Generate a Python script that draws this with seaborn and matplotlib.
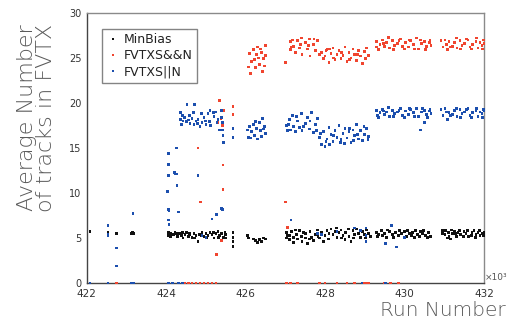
import matplotlib as mpl
mpl.use('Agg')
import matplotlib.pyplot as plt
from matplotlib.ticker import MultipleLocator
import seaborn as sns
import pandas as pd

sns.set_style('white')
plt.rcParams['font.family'] = ['DejaVu Sans']

# run numbers are in units of 10^3
mb_run = [422.08, 422.53, 422.53, 422.75, 423.12, 423.15, 423.18,
          424.05, 424.05, 424.12, 424.18, 424.22, 424.28, 424.33, 424.38, 424.42, 424.47,
          424.50, 424.55, 424.60, 424.65, 424.70, 424.75, 424.80, 424.83, 424.90, 424.95,
          425.00, 425.05, 425.10, 425.15, 425.20, 425.25, 425.30, 425.35, 425.40, 425.45,
          425.50, 425.50, 425.68, 425.68, 425.68, 425.68,
          426.05, 426.07, 426.20, 426.25, 426.30, 426.35, 426.40, 426.45, 426.50,
          427.02, 427.02, 427.10, 427.10, 427.15, 427.20, 427.20, 427.28, 427.30, 427.35,
          427.40, 427.42, 427.50, 427.50, 427.55, 427.62, 427.65, 427.70, 427.75, 427.80,
          427.85, 427.90, 427.95, 428.00, 428.05, 428.10, 428.15, 428.20, 428.25, 428.30,
          428.35, 428.40, 428.45, 428.50, 428.52, 428.60, 428.65, 428.70, 428.75, 428.80,
          428.85, 428.90, 428.95, 429.00, 429.05, 429.10, 429.15,
          429.30, 429.35, 429.42, 429.50, 429.55, 429.62, 429.70, 429.78, 429.85, 429.92,
          430.00, 430.05, 430.12, 430.20, 430.25, 430.32, 430.40, 430.45, 430.52, 430.60,
          430.65, 430.95, 430.95, 431.02, 431.08, 431.10, 431.15, 431.20, 431.25, 431.30,
          431.35, 431.42, 431.50, 431.55, 431.62, 431.70, 431.75, 431.80, 431.85, 431.90,
          431.95, 432.00,
          429.32, 429.45, 429.58, 429.72, 429.88, 430.08, 430.18, 430.28, 430.38, 430.48,
          430.58, 431.04, 431.12, 431.18, 431.28, 431.38, 431.48, 431.58, 431.68, 431.78,
          431.88, 431.98, 427.05, 427.25, 427.45, 427.60, 427.82, 428.08, 428.28, 428.42,
          428.58, 428.72, 428.88, 429.02, 424.10, 424.25, 424.40, 424.58, 424.72, 424.88,
          425.02, 425.18, 425.32, 425.48]
mb_val = [5.7, 5.4, 5.6, 5.5, 5.5, 5.6, 5.5,
          5.6, 5.3, 5.5, 5.4, 5.6, 5.2, 5.5, 5.3, 5.0, 5.4,
          5.6, 5.2, 5.4, 5.1, 5.5, 5.3, 4.6, 5.4, 5.6, 5.2,
          5.5, 5.3, 5.6, 5.4, 5.0, 5.5, 5.7, 5.3, 5.5, 5.1,
          5.4, 5.0, 5.6, 5.1, 4.6, 4.1,
          5.3, 5.0, 4.9, 4.7, 4.5, 4.8, 4.6, 5.0, 4.9,
          5.6, 5.0, 5.3, 4.8, 5.7, 5.1, 4.5, 5.4, 4.9, 5.8,
          5.2, 4.6, 5.5, 5.0, 4.4, 5.7, 5.1, 4.7, 5.4, 5.9,
          5.0, 5.6, 4.6, 5.3, 5.8, 5.5, 6.0, 5.4, 5.7, 5.1,
          5.6, 5.9, 5.3, 4.8, 5.6, 5.2, 4.6, 5.8, 5.4, 6.0,
          5.5, 5.1, 5.7, 5.4, 5.9, 5.5, 5.2,
          5.6, 5.4, 5.8, 5.5, 5.1, 5.7, 5.4, 5.6, 5.3, 5.5,
          5.7, 5.2, 5.5, 5.6, 5.1, 5.4, 5.7, 5.5, 5.3, 5.6,
          5.2, 5.5, 5.8, 5.4, 5.0, 5.6, 4.9, 5.5, 5.7, 5.2,
          5.6, 5.4, 5.7, 5.5, 5.2, 5.6, 5.8, 5.4, 5.6, 5.3,
          5.5, 5.6,
          5.2, 5.3, 5.9, 5.1, 5.8, 5.8, 5.3, 5.8, 5.2, 5.8,
          5.1, 5.8, 5.2, 5.9, 5.5, 5.8, 5.2, 5.8, 5.3, 5.1,
          5.8, 5.3, 5.3, 5.9, 5.6, 4.9, 5.2, 4.9, 6.1, 5.0,
          6.0, 5.0, 5.9, 5.0, 5.2, 5.5, 5.6, 5.5, 5.0, 5.3,
          5.1, 5.6, 5.1, 5.6]

and_run = [422.75, 424.17, 424.30, 424.45, 424.55, 424.65, 424.75, 424.85, 424.95, 425.05,
           425.15, 425.25, 427.02, 427.12, 427.30, 427.85, 428.00, 428.30, 428.55, 428.75,
           428.95, 429.00, 429.05, 429.10, 429.50, 429.65, 429.85,
           424.80, 424.87, 425.43, 425.43, 425.27, 425.40, 425.35, 425.38, 425.30, 425.45,
           425.42, 425.68, 425.68, 427.00, 427.05,
           426.08, 426.10, 426.12, 426.20, 426.22, 426.25, 426.30, 426.32, 426.35, 426.40,
           426.42, 426.45, 426.50, 426.50, 427.00,
           427.12, 427.12, 427.18, 427.20, 427.25, 427.30, 427.35, 427.40, 427.42, 427.50,
           427.55, 427.60, 427.62, 427.70, 427.75, 427.80, 427.85,
           427.90, 427.95, 428.00, 428.05, 428.10, 428.15, 428.20, 428.25, 428.30, 428.35,
           428.40, 428.45, 428.50, 428.55, 428.60, 428.65, 428.70, 428.75, 428.80, 428.85,
           428.90, 428.95, 429.00, 429.05, 429.10,
           429.30, 429.30, 429.38, 429.45, 429.50, 429.55, 429.62, 429.70, 429.75, 429.82,
           429.90, 429.95, 430.02, 430.10, 430.15, 430.22, 430.30, 430.35, 430.42, 430.50,
           430.55, 430.62, 430.67, 430.92, 430.97, 431.05, 431.08, 431.12, 431.20, 431.25,
           431.32, 431.40, 431.45, 431.52, 431.60, 431.65, 431.72, 431.80, 431.85, 431.90,
           431.95, 432.00,
           429.34, 429.48, 429.60, 429.72, 429.86, 430.00, 430.12, 430.26, 430.40, 430.52,
           430.64, 431.02, 431.15, 431.30, 431.42, 431.56, 431.68, 431.82, 431.96, 431.98,
           427.15, 427.38, 427.58, 427.72, 428.02, 428.22, 428.42, 428.62, 428.82, 429.02,
           428.12, 426.15, 426.28, 426.38, 426.48]
and_val = [0.0] * 27 + [
           15.0, 9.0, 13.1, 10.4, 3.2, 4.7, 20.3, 18.3, 17.8, 19.2,
           17.5, 19.6, 18.7, 9.0, 6.2,
           24.0, 25.5, 23.3, 25.9, 24.8, 23.9, 26.2, 25.0, 24.3, 25.6,
           23.5, 24.9, 26.4, 25.3, 24.5,
           26.8, 25.9, 27.0, 26.3, 25.6, 26.9, 26.1, 27.2, 25.4, 26.7,
           26.0, 27.1, 25.2, 26.5, 25.8, 26.9, 25.4,
           25.6, 24.9, 25.2, 25.9, 24.5, 25.5, 26.1, 24.8, 25.4, 25.8,
           24.9, 25.3, 26.2, 24.6, 25.6, 25.0, 26.0, 25.4, 24.7, 25.8,
           25.2, 24.4, 25.7, 26.1, 25.3,
           26.8, 26.2, 26.5, 27.0, 26.3, 26.7, 26.1, 26.9, 26.4, 26.6,
           27.1, 26.3, 26.7, 26.2, 26.9, 26.5, 27.2, 26.0, 26.6, 26.8,
           26.3, 26.7, 26.4, 26.9, 26.2, 26.5, 25.9, 26.8, 26.3, 26.7,
           26.1, 26.9, 26.4, 26.6, 27.0, 26.2, 26.5, 26.8, 26.1, 26.7,
           26.4, 26.6,
           25.9, 26.6, 27.3, 25.9, 26.9, 26.0, 27.0, 26.0, 27.0, 25.9,
           27.0, 27.0, 26.2, 27.2, 26.0, 27.1, 26.0, 27.2, 26.0, 27.0,
           26.2, 26.5, 26.4, 27.1, 25.8, 25.0, 25.6, 24.8, 25.4, 24.9,
           26.0, 24.6, 25.4, 26.0, 24.1]

or_run = [422.08, 422.53, 423.13, 423.18, 424.05, 424.15, 424.30, 424.40, 428.93, 429.52,
          422.53, 422.53, 422.53, 422.75, 422.75, 423.16,
          424.05, 424.05, 424.05, 424.03, 424.05, 424.07, 424.05, 424.07, 424.26, 424.20,
          424.25, 424.22, 424.27, 424.30, 424.80, 424.90, 425.00, 425.15, 425.27, 425.40,
          425.42,
          424.35, 424.35, 424.38, 424.42, 424.45, 424.50, 424.52, 424.55, 424.60, 424.65,
          424.70, 424.72, 424.75, 424.80, 424.85, 424.90, 424.95, 425.00, 425.05, 425.10,
          425.12, 425.20, 425.25, 425.30, 425.35, 425.40, 425.40, 425.42, 425.42, 425.43,
          425.45, 425.68, 425.68,
          426.05, 426.07, 426.10, 426.15, 426.20, 426.22, 426.28, 426.30, 426.35, 426.38,
          426.42, 426.45, 426.50,
          427.02, 427.05, 427.10, 427.12, 427.18, 427.20, 427.25, 427.30, 427.35, 427.40,
          427.42, 427.50, 427.55, 427.60, 427.65, 427.70, 427.75, 427.80,
          427.85, 427.90, 427.95, 428.00, 428.05, 428.10, 428.15, 428.20, 428.25, 428.30,
          428.35, 428.40, 428.45, 428.50, 428.55, 428.60, 428.65, 428.70, 428.75, 428.80,
          428.85, 428.90, 428.95, 429.00, 429.05, 429.10,
          429.30, 429.32, 429.38, 429.45, 429.50, 429.55, 429.62, 429.70, 429.75, 429.82,
          429.90, 429.95, 430.02, 430.10, 430.15, 430.22, 430.30, 430.35, 430.40, 430.42,
          430.50, 430.50, 430.55, 430.62, 430.67, 430.92, 430.97, 431.05, 431.08, 431.12,
          431.20, 431.25, 431.32, 431.40, 431.45, 431.52, 431.60, 431.65, 431.72, 431.80,
          431.85, 431.90, 431.95, 432.00,
          427.14, 427.90, 428.30, 428.75, 429.03, 429.03, 429.03, 429.53, 429.68, 429.80,
          430.00, 427.80, 428.90,
          429.34, 429.48, 429.60, 429.72, 429.86, 430.00, 430.12, 430.26, 430.45, 430.58,
          430.64, 431.02, 431.15, 431.30, 431.42, 431.56, 431.68, 431.82, 431.96, 431.98,
          427.88, 428.02, 428.12, 428.22, 428.38, 428.48, 428.62, 428.72, 428.82, 428.98,
          429.08, 427.08, 427.28, 427.45, 427.62, 427.78, 426.12, 426.25, 426.40, 426.48,
          424.40, 424.58, 424.68, 424.78, 424.88, 424.98, 425.08, 425.18, 425.28]
or_val = [0.0] * 10 + [
          6.4, 5.4, 5.3, 3.9, 1.9, 7.7,
          14.4, 13.2, 11.9, 10.2, 8.2, 8.0, 7.0, 6.5, 15.0, 12.3,
          12.1, 12.2, 10.8, 7.9, 11.9, 5.3, 5.1, 7.1, 7.6, 8.3,
          8.2,
          18.9, 18.2, 17.6, 18.0, 18.4, 17.9, 19.8, 18.1, 17.7, 18.3,
          17.6, 19.8, 18.0, 18.2, 17.4, 17.8, 18.4, 17.6, 18.8, 19.2,
          17.5, 18.5, 19.0, 18.2, 17.0, 19.2, 18.4, 17.8, 17.0, 16.4,
          15.6, 17.2, 16.2,
          17.0, 16.2, 17.4, 16.8, 17.6, 16.4, 17.2, 16.0, 17.8, 16.9,
          18.3, 17.1, 16.6,
          17.5, 16.9, 18.2, 17.0, 18.6, 17.4, 16.8, 18.0, 17.3, 18.8,
          16.9, 17.7, 18.4, 17.1, 18.9, 16.7, 17.6, 18.3,
          16.2, 15.4, 16.8, 15.2, 16.0, 17.3, 16.5, 15.7, 16.9, 16.2,
          17.5, 15.9, 16.6, 17.2, 16.1, 16.8, 15.6, 17.0, 16.4, 17.6,
          16.0, 16.9, 15.8, 16.5, 17.2, 16.3,
          19.2, 18.6, 18.9, 19.3, 18.7, 19.0, 18.5, 19.2, 18.8, 19.0,
          19.4, 18.6, 19.1, 18.7, 19.3, 18.9, 19.4, 18.5, 17.0, 19.0,
          19.2, 17.8, 18.7, 19.1, 18.8, 19.3, 18.6, 19.0, 18.2, 18.9,
          18.7, 19.2, 18.5, 19.3, 18.8, 19.0, 19.4, 18.6, 18.9, 19.2,
          18.5, 19.0, 18.8, 19.1,
          7.0, 5.4, 5.7, 6.1, 6.1, 5.3, 4.6, 4.4, 6.4, 4.0,
          5.1, 5.5, 5.8,
          18.4, 19.1, 19.5, 18.5, 19.2, 18.4, 19.4, 18.5, 19.4, 18.4,
          19.3, 19.4, 18.6, 19.4, 18.4, 19.3, 18.4, 19.4, 18.4, 19.3,
          16.6, 15.7, 15.4, 16.4, 15.6, 15.5, 17.2, 15.8, 16.5, 17.4,
          15.9, 17.6, 18.5, 17.4, 18.0, 16.9, 16.1, 17.9, 16.3, 17.4,
          18.6, 18.6, 18.9, 17.7, 18.8, 18.0, 17.9, 18.9, 17.8]

triggers = ['MinBias', 'FVTXS&&N', 'FVTXS||N']
colors = {'MinBias': '#111111', 'FVTXS&&N': '#f0452f', 'FVTXS||N': '#1c4fae'}

df = pd.concat([
    pd.DataFrame({'run': mb_run, 'ntrk': mb_val, 'trigger': triggers[0]}),
    pd.DataFrame({'run': and_run, 'ntrk': and_val, 'trigger': triggers[1]}),
    pd.DataFrame({'run': or_run, 'ntrk': or_val, 'trigger': triggers[2]}),
])

fig = plt.figure(figsize=(5.11, 3.22), dpi=100)
ax = fig.add_axes([0.170, 0.121, 0.777, 0.839])

sns.scatterplot(data=df, x='run', y='ntrk', hue='trigger', hue_order=triggers,
                palette=colors, marker='s', s=4, linewidth=0, ax=ax, legend=True,
                clip_on=False, zorder=3)

ax.set_xlim(422, 432)
ax.set_ylim(0, 30)
ax.set_xlabel('')
ax.set_ylabel('')
ax.xaxis.set_major_locator(MultipleLocator(2))
ax.xaxis.set_minor_locator(MultipleLocator(0.5))
ax.yaxis.set_major_locator(MultipleLocator(5))
ax.yaxis.set_minor_locator(MultipleLocator(1))
ax.tick_params(axis='both', which='both', direction='in', colors='#444444',
               labelcolor='#333333', top=False, right=False)
ax.tick_params(axis='y', which='major', length=9.5, width=1.0, pad=4, labelsize=7)
ax.tick_params(axis='y', which='minor', length=3.6, width=0.8)
ax.tick_params(axis='x', which='major', length=6, width=1.0, pad=4, labelsize=7.5)
ax.tick_params(axis='x', which='minor', length=3.6, width=0.8)
for side in ['left', 'bottom']:
    ax.spines[side].set_color('#444444')
    ax.spines[side].set_linewidth(1.0)
for side in ['top', 'right']:
    ax.spines[side].set_color('#8a8a8a')
    ax.spines[side].set_linewidth(1.0)

handles, labels = ax.get_legend_handles_labels()
leg = ax.legend(handles, labels, loc='upper left', bbox_to_anchor=(0.038, 0.941),
                borderaxespad=0, frameon=True, fancybox=False, fontsize=9,
                markerscale=0.8, handletextpad=0.3, handlelength=1.1,
                labelspacing=0.25, borderpad=0.35)
leg.get_frame().set_edgecolor('#666666')
leg.get_frame().set_linewidth(1.0)
for t in leg.get_texts():
    t.set_color('#222222')

fig.text(0.072, 0.925, 'Average Number\nof tracks in FVTX', rotation=90,
         ha='center', va='top', multialignment='right', fontsize=16,
         fontweight='light', color='#5a5a5a', linespacing=0.95)
fig.text(0.990, 0.018, 'Run Number', ha='right', va='baseline', fontsize=14.5,
         fontweight='light', color='#5a5a5a')
fig.text(0.949, 0.137, '×10³', ha='left', va='center', fontsize=6.5, color='#555555')

fig.savefig('out.png', dpi=100)
